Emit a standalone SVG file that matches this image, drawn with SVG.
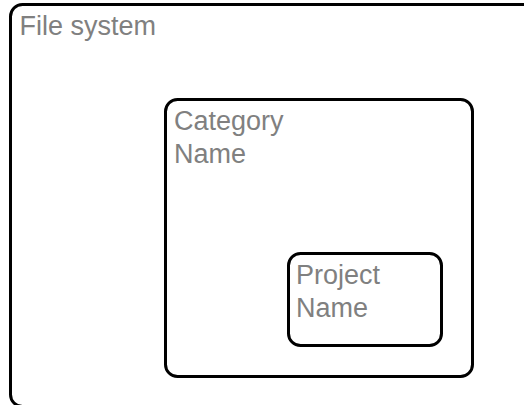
<svg xmlns="http://www.w3.org/2000/svg" width="524" height="405" viewBox="0 0 524 405">
  <style>
    .box { fill: #ffffff; stroke: #000000; stroke-width: 3; }
    .label { font-family: "Liberation Sans", Arial, sans-serif; font-size: 27px; fill: #808080; }
  </style>
  <rect x="0" y="0" width="524" height="405" fill="#ffffff"/>
  <g id="file-system">
    <rect class="box" x="10.5" y="4.5" width="540" height="402" rx="12" ry="12"/>
    <text class="label" x="19.5" y="35">File system</text>
  </g>
  <g id="category-name">
    <rect class="box" x="165.5" y="99.5" width="307" height="277" rx="12" ry="12"/>
    <text class="label" x="174" y="130">Category</text>
    <text class="label" x="174" y="163">Name</text>
  </g>
  <g id="project-name">
    <rect class="box" x="288.5" y="253.5" width="153" height="92" rx="12" ry="12"/>
    <text class="label" x="296" y="284">Project</text>
    <text class="label" x="296" y="317">Name</text>
  </g>
  <g id="connectors"></g>
</svg>
